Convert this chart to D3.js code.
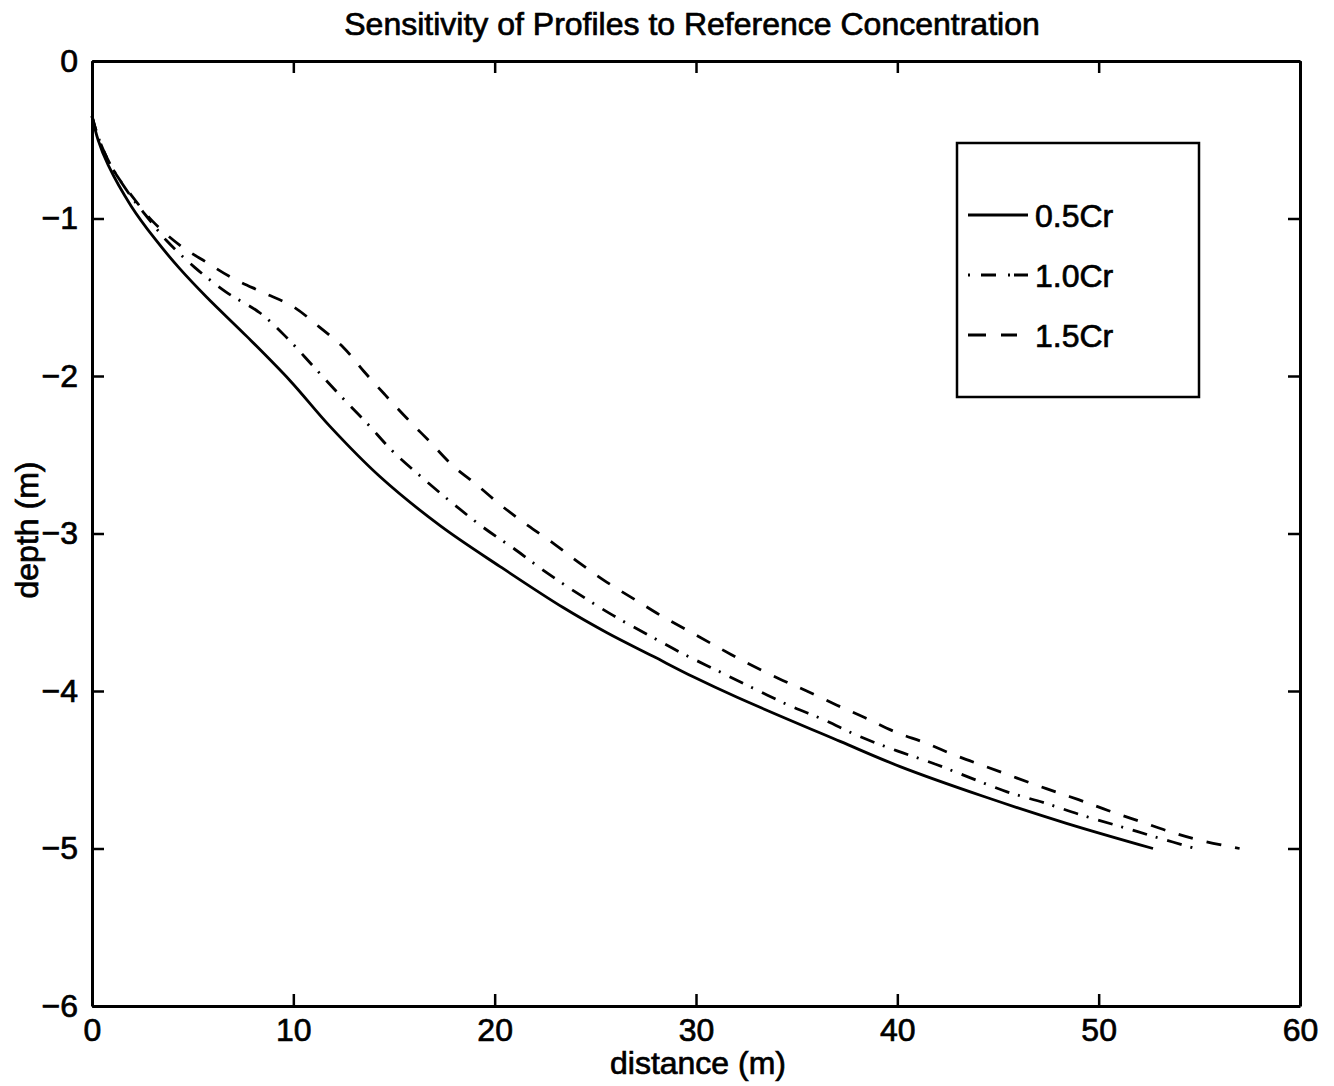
<!DOCTYPE html>
<html>
<head>
<meta charset="utf-8">
<script src="https://cdn.jsdelivr.net/npm/d3@7"></script>
<style>
  body { margin: 0; background: #fff; }
  text { font-family: "Liberation Sans", Arial, Helvetica, sans-serif; fill: #000; stroke: #000; stroke-width: 0.7px; }
</style>
</head>
<body>
<script>
// data (distance m, depth m)
const xTicks = [0, 10, 20, 30, 40, 50, 60];
const yTicks = [0, -1, -2, -3, -4, -5, -6];
const seriesNames = ["0.5Cr", "1.0Cr", "1.5Cr"];

const dist05 = [0, 0.3, 0.8, 1.94, 3.13, 4.37, 5.7, 7.7, 9.84, 11.82, 14.31, 17.29, 20.27, 23.4, 25.58, 27.87, 29.86, 32.04, 37.16, 40.14, 44.3, 48.4, 52.7];
const depth05 = [-0.35, -0.5, -0.66, -0.92, -1.13, -1.32, -1.50, -1.75, -2.03, -2.32, -2.64, -2.95, -3.21, -3.47, -3.63, -3.78, -3.91, -4.04, -4.32, -4.48, -4.67, -4.84, -5.0];

const dist10 = [0, 0.3, 0.8, 1.3, 1.94, 2.8, 3.7, 5.1, 6.7, 8.35, 9.7, 11.0, 12.3, 13.66, 14.95, 16.44, 17.93, 19.42, 21.0, 22.6, 24.24, 25.88, 27.57, 29.3, 31.05, 32.8, 34.6, 36.3, 38.15, 39.99, 41.8, 43.6, 45.45, 47.3, 49.2, 51.07, 52.9, 54.8];
const depth10 = [-0.35, -0.48, -0.63, -0.74, -0.86, -1.0, -1.14, -1.31, -1.47, -1.60, -1.76, -1.94, -2.12, -2.30, -2.48, -2.65, -2.81, -2.96, -3.10, -3.25, -3.39, -3.52, -3.64, -3.76, -3.87, -3.98, -4.09, -4.18, -4.29, -4.38, -4.46, -4.55, -4.64, -4.71, -4.79, -4.86, -4.93, -5.0];

const dist15 = [0, 0.3, 0.8, 1.3, 1.94, 3.03, 4.37, 5.71, 7.0, 8.5, 10.0, 11.3, 12.5, 13.5, 14.56, 15.65, 16.8, 17.93, 19.1, 20.4, 21.66, 23.0, 24.24, 25.58, 26.97, 28.37, 29.8, 31.2, 32.5, 34.1, 35.5, 37.0, 38.4, 39.9, 41.4, 42.9, 44.4, 47.4, 49.0, 50.5, 52.1, 53.7, 55.1, 57.0];
const depth15 = [-0.35, -0.48, -0.63, -0.74, -0.85, -1.02, -1.17, -1.28, -1.38, -1.47, -1.56, -1.69, -1.82, -1.97, -2.12, -2.27, -2.42, -2.57, -2.69, -2.83, -2.95, -3.07, -3.19, -3.31, -3.42, -3.53, -3.63, -3.73, -3.82, -3.92, -4.0, -4.09, -4.17, -4.26, -4.33, -4.41, -4.48, -4.62, -4.69, -4.76, -4.83, -4.90, -4.95, -5.0];

// dimensions
const dms = {
    width: 1334,
    height: 1086,
    margins: { top: 61, right: 34, bottom: 80, left: 92 }
};
dms.innerWidth = dms.width - dms.margins.left - dms.margins.right;
dms.innerHeight = dms.height - dms.margins.top - dms.margins.bottom;

const svg = d3.select("body")
              .append("svg")
                .attr("width", dms.width)
                .attr("height", dms.height);

const g = svg.append("g")
             .attr("transform", `translate(${dms.margins.left},${dms.margins.top})`);

// scales
const xScale = d3.scaleLinear().domain([0, 60]).range([0, dms.innerWidth]);
const yScale = d3.scaleLinear().domain([-6, 0]).range([dms.innerHeight, 0]);

// axes, matlab style: ticks pointing inward on all four sides
const tickLen = 12;
const fmt = d => d < 0 ? "\u2212" + Math.abs(d) : String(d);

const xBottom = g.append("g")
    .attr("transform", `translate(0,${dms.innerHeight})`)
    .call(d3.axisBottom(xScale).tickValues(xTicks).tickSizeInner(-tickLen).tickSizeOuter(0).tickPadding(12).tickFormat(fmt));
const xTop = g.append("g")
    .call(d3.axisTop(xScale).tickValues(xTicks).tickSizeInner(-tickLen).tickSizeOuter(0).tickFormat(""));
const yLeft = g.append("g")
    .call(d3.axisLeft(yScale).tickValues(yTicks).tickSizeInner(-tickLen).tickSizeOuter(0).tickPadding(14).tickFormat(fmt));
const yRight = g.append("g")
    .attr("transform", `translate(${dms.innerWidth},0)`)
    .call(d3.axisRight(yScale).tickValues(yTicks).tickSizeInner(-tickLen).tickSizeOuter(0).tickFormat(""));

[xBottom, xTop, yLeft, yRight].forEach(ax => {
    ax.selectAll("path.domain").attr("stroke", "#000").attr("stroke-width", 3);
    ax.selectAll(".tick line").attr("stroke", "#000").attr("stroke-width", 2.5);
    ax.selectAll(".tick text")
      .style("font-family", "'Liberation Sans', Arial, sans-serif")
      .style("font-size", "32px")
      .attr("fill", "#000");
});

// curves
const line = d3.line()
    .x(d => xScale(d[0]))
    .y(d => yScale(d[1]))
    .curve(d3.curveCatmullRom.alpha(0.5));

const series = [
    { name: seriesNames[0], pts: d3.zip(dist05, depth05), dash: null, legendDash: null },
    { name: seriesNames[1], pts: d3.zip(dist10, depth10), dash: "15 9 2 10", legendDash: "2 11 15 12 2 4 14" },
    { name: seriesNames[2], pts: d3.zip(dist15, depth15), dash: "15 14", legendDash: "18 15 16 100" }
];

g.selectAll("path.curve")
    .data(series)
    .enter()
    .append("path")
      .attr("class", "curve")
      .attr("d", d => line(d.pts))
      .attr("fill", "none")
      .attr("stroke", "#000")
      .attr("stroke-width", 2.8)
      .attr("stroke-dasharray", d => d.dash);

// legend
const legend = svg.append("g").attr("transform", "translate(957,143)");
legend.append("rect")
    .attr("width", 242)
    .attr("height", 254)
    .attr("fill", "#fff")
    .attr("stroke", "#000")
    .attr("stroke-width", 2.5);

const rows = legend.selectAll("g.row")
    .data(series)
    .enter()
    .append("g")
      .attr("class", "row")
      .attr("transform", (d, i) => `translate(0,${72 + i * 60})`);

rows.append("line")
    .attr("x1", 11).attr("x2", 71)
    .attr("stroke", "#000")
    .attr("stroke-width", 2.8)
    .attr("stroke-dasharray", d => d.legendDash);

rows.append("text")
    .attr("x", 78)
    .attr("dy", "0.36em")
    .style("font-size", "32px")
    .text(d => d.name);

// title and labels
svg.append("text")
    .attr("x", 692)
    .attr("y", 35)
    .attr("text-anchor", "middle")
    .style("font-size", "32px")
    .text("Sensitivity of Profiles to Reference Concentration");

svg.append("text")
    .attr("x", 698)
    .attr("y", 1074)
    .attr("text-anchor", "middle")
    .style("font-size", "32px")
    .text("distance (m)");

svg.append("text")
    .attr("transform", "translate(38,530) rotate(-90)")
    .attr("text-anchor", "middle")
    .style("font-size", "32px")
    .text("depth (m)");
</script>
</body>
</html>
